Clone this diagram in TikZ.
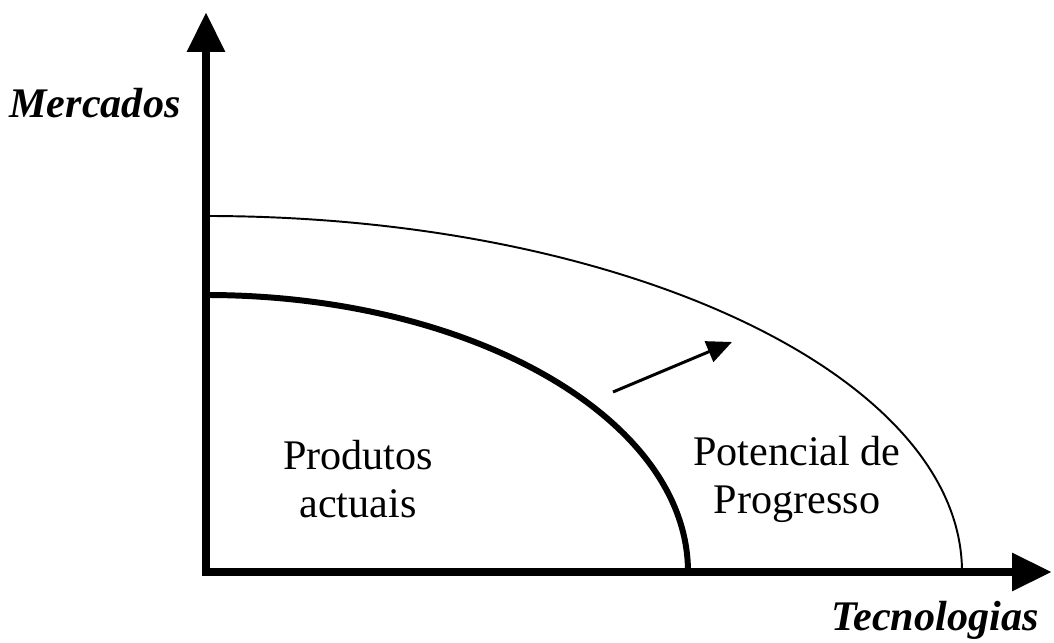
\documentclass[tikz,border=0pt]{standalone}
\usepackage{fontspec}
\setmainfont{Liberation Serif}
\usepackage{tikz}
\usetikzlibrary{arrows.meta,positioning}
\tikzset{
  axis/.style    ={line width=5.1pt, -{Triangle[length=0.8cm,width=0.72cm]}},
  now/.style     ={line width=3.4pt},
  future/.style  ={line width=1.1pt},
  growth/.style  ={line width=1.7pt, -{Triangle[length=0.5cm,width=0.44cm]}},
  lbl/.style     ={font=\fontsize{24pt}{27.3pt}\selectfont, align=center, inner sep=0pt},
  axlbl/.style   ={font=\fontsize{24pt}{27.3pt}\selectfont\bfseries\itshape, inner sep=0pt},
}
\begin{document}
\begin{tikzpicture}[x=0.02cm,y=0.02cm]
    \useasboundingbox (0,0) rectangle (1054,642);
    \coordinate (o)   at (206,70);
    \coordinate (ytop) at (206,630);
    \coordinate (xend) at (1052,70);
    \coordinate (in0) at (206,347);
    \coordinate (out0) at (206,426);
    \coordinate (arA) at (613,250);
    \coordinate (arB) at (732,300);

    % axes
    \draw[axis] ([yshift=-2.5pt]o) -- (ytop);
    \draw[axis] ([xshift=-2.5pt]o) -- (xend);

    % frontiers
    \draw[now] (in0) arc[start angle=90, end angle=0, x radius=482, y radius=277];
    \draw[future] (out0) arc[start angle=90, end angle=0, x radius=756, y radius=356];
    \draw[growth] (arA) -- (arB);

    \node[axlbl] (mkt) at (95,539) {Mercados};
    \node[axlbl] (tec) at (935,22) {Tecnologias};
    \node[lbl] (prod) at (358,163) {Produtos\\actuais};
    \node[lbl] (pot) at (797,163) {Potencial de\\Progresso};
  \end{tikzpicture}
\end{document}
